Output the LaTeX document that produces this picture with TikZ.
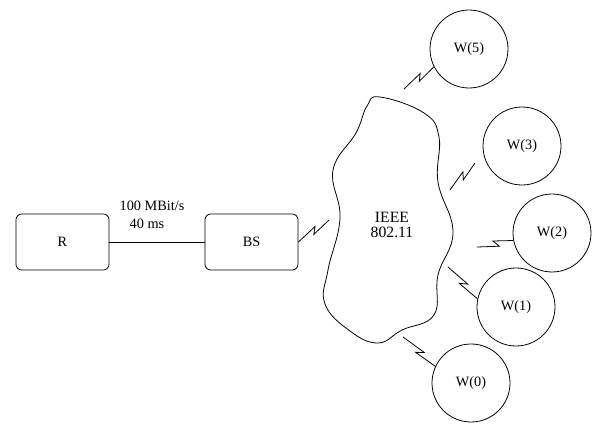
\documentclass[tikz,border=0pt]{standalone}
\usepackage{fontspec}
\setmainfont{Liberation Serif}
\usetikzlibrary{calc}

\tikzset{
  host/.style={draw, rounded corners=4pt, minimum width=65.1pt, minimum height=39.2pt, inner sep=0pt},
  station/.style={draw, circle, minimum size=54.6pt, inner sep=0pt},
  % radio link: a small Z kink half way along
  zap/.style={to path={-- ($(\tikztostart)!0.6!(\tikztotarget)!#1!90:(\tikztotarget)$)
                       -- ($(\tikztostart)!0.45!(\tikztotarget)!#1!-90:(\tikztotarget)$)
                       -- (\tikztotarget)}},
  zap/.default=2pt
}

\begin{document}
\begin{tikzpicture}[x=0.7pt, y=-0.7pt, line width=0.55pt]
    \useasboundingbox (0,0) rectangle (592,424);
    % wired part
    \node[host] (r) at (62.5,242) {R};
    \node[host] (bs) at (251.5,242) {BS};
    \draw (r) -- (bs);
    \node (rate) at (152,206) {100 MBit/s};
    \node (delay) at (147,224) {40 ms};
    % the wireless cell
    \draw plot[smooth cycle, tension=0.7] coordinates {
        (380,97) (424,113) (439,137) (438,182) (453,232) (438,275)
        (434,315) (402,330) (378,343) (350,331) (325,304) (328,270)
        (340,218) (333,170) (356,133) (367,106)};
    \node[font=\fontsize{11}{10}\selectfont, align=center] (cell) at (392,225) {IEEE\\802.11};
    % wireless stations
    \node[station] (w5) at (469,49) {W(5)};
    \node[station] (w3) at (522,146) {W(3)};
    \node[station] (w2) at (552,233) {W(2)};
    \node[station] (w1) at (516,307) {W(1)};
    \node[station] (w0) at (471,383) {W(0)};
    % radio links
    \coordinate (bsz) at (329,220);
    \coordinate (w5z) at (404,89);
    \coordinate (w3a) at (450,190);
    \coordinate (w3b) at (475,163);
    \coordinate (w2z) at (477,247);
    \coordinate (w1z) at (448,267);
    \coordinate (w0z) at (403,337);
    \draw (bs.east) to[zap] (bsz);
    \draw (w5z) to[zap] (w5.207);
    \draw (w3a) to[zap] (w3b);
    \draw (w2z) to[zap=-2.2pt] (w2.191);
    \draw (w1z) to[zap] (w1.168);
    \draw (w0z) to[zap] (w0.155);
\end{tikzpicture}
\end{document}
